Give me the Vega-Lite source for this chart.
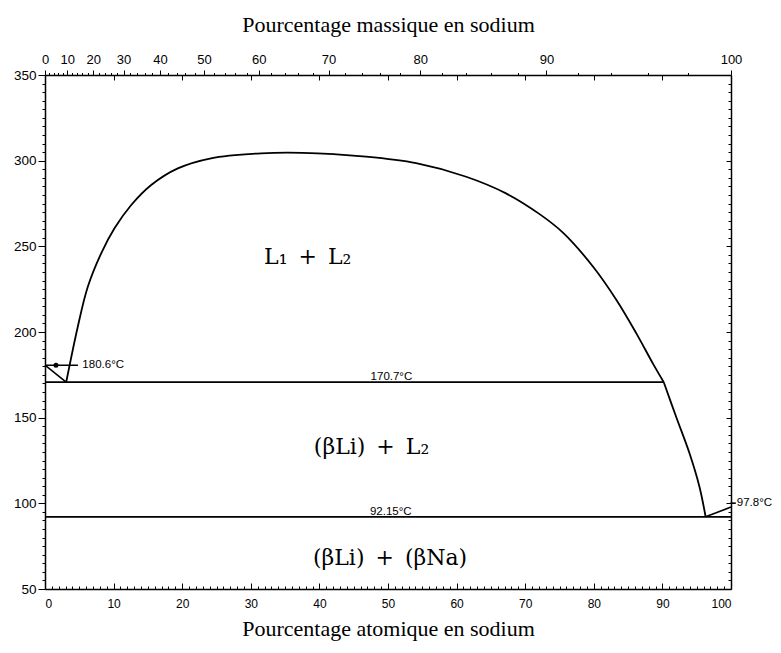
{
  "$schema": "https://vega.github.io/schema/vega-lite/v6.json",
  "width": 686,
  "height": 514,
  "autosize": {"type": "none"},
  "padding": {"left": 45, "top": 75, "right": 50, "bottom": 64},
  "background": "white",
  "config": {
    "view": {"stroke": null},
    "axis": {"domainColor": "black", "domainWidth": 1.5, "tickColor": "black", "tickWidth": 1, "labelColor": "black", "labelFont": "Liberation Sans", "titleColor": "black", "grid": false}
  },
  "datasets": {
    "curve": [
      {"part": "gap", "x": 3.09, "t": 170.7, "i": 0},
      {"part": "gap", "x": 4.78, "t": 203.1, "i": 1},
      {"part": "gap", "x": 6.24, "t": 226.4, "i": 2},
      {"part": "gap", "x": 8.19, "t": 245.9, "i": 3},
      {"part": "gap", "x": 10.13, "t": 260.5, "i": 4},
      {"part": "gap", "x": 12.57, "t": 274.1, "i": 5},
      {"part": "gap", "x": 15.48, "t": 285.8, "i": 6},
      {"part": "gap", "x": 19.36, "t": 295.5, "i": 7},
      {"part": "gap", "x": 24.2, "t": 301.4, "i": 8},
      {"part": "gap", "x": 31.5, "t": 304.3, "i": 9},
      {"part": "gap", "x": 37.5, "t": 304.6, "i": 10},
      {"part": "gap", "x": 46.8, "t": 302.3, "i": 11},
      {"part": "gap", "x": 54.1, "t": 298.5, "i": 12},
      {"part": "gap", "x": 61.4, "t": 290.6, "i": 13},
      {"part": "gap", "x": 67.2, "t": 280.9, "i": 14},
      {"part": "gap", "x": 72.1, "t": 268.8, "i": 15},
      {"part": "gap", "x": 75.5, "t": 258.0, "i": 16},
      {"part": "gap", "x": 79.9, "t": 238.1, "i": 17},
      {"part": "gap", "x": 83.3, "t": 218.7, "i": 18},
      {"part": "gap", "x": 86.2, "t": 199.2, "i": 19},
      {"part": "gap", "x": 88.6, "t": 181.7, "i": 20},
      {"part": "gap", "x": 90.2, "t": 170.7, "i": 21},
      {"part": "liq", "x": 90.2, "t": 170.7, "i": 0},
      {"part": "liq", "x": 92.0, "t": 150.5, "i": 1},
      {"part": "liq", "x": 93.95, "t": 129.2, "i": 2},
      {"part": "liq", "x": 95.4, "t": 109.7, "i": 3},
      {"part": "liq", "x": 96.3, "t": 92.15, "i": 4}
    ],
    "segs": [
      {"seg": "liLiq", "x": 0, "t": 180.6, "i": 0},
      {"seg": "liLiq", "x": 3.09, "t": 170.7, "i": 1},
      {"seg": "naLiq", "x": 96.3, "t": 92.15, "i": 0},
      {"seg": "naLiq", "x": 100, "t": 97.8, "i": 1},
      {"seg": "lead1", "x": 0, "t": 180.6, "i": 0},
      {"seg": "lead1", "x": 4.8, "t": 180.6, "i": 1},
      {"seg": "lead2", "x": 99.9, "t": 100.1, "i": 0},
      {"seg": "lead2", "x": 100.7, "t": 100.1, "i": 1}
    ],
    "hlines": [
      {"x1": 0, "x2": 90.2, "t": 170.7},
      {"x1": 0, "x2": 100, "t": 92.15}
    ],
    "regions": [
      {"x": 38.3, "t": 243.8, "label": "L₁\u2002+\u2002L₂"},
      {"x": 47.6, "t": 132.8, "label": "(βLi)\u2002+\u2002L₂"},
      {"x": 50.3, "t": 68.0, "label": "(βLi)\u2002+\u2002(βNa)"}
    ],
    "tlabels": [
      {"x": 50.5, "t": 170.7, "label": "170.7°C"},
      {"x": 50.4, "t": 92.15, "label": "92.15°C"}
    ],
    "sidelabels": [
      {"x": 5.3, "t": 180.6, "label": "180.6°C"},
      {"x": 100.7, "t": 100.1, "label": "97.8°C"}
    ],
    "dots": [
      {"x": 1.6, "t": 180.6}
    ]
  },
  "layer": [
    {
      "data": {"name": "curve"},
      "mark": {"type": "line", "color": "black", "strokeWidth": 1.8, "interpolate": "catmull-rom"},
      "encoding": {
        "x": {"field": "x", "type": "quantitative", "scale": {"domain": [0, 100], "nice": false, "zero": false},
          "axis": {"orient": "bottom", "values": [0, 10, 20, 30, 40, 50, 60, 70, 80, 90, 100], "tickSize": -6, "labelPadding": 15, "labelFontSize": 12, "title": "Pourcentage atomique en sodium", "titleFont": "Liberation Serif", "titleFontSize": 22, "titleFontWeight": "normal", "titlePadding": 9}},
        "y": {"field": "t", "type": "quantitative", "scale": {"domain": [50, 350], "nice": false, "zero": false},
          "axis": {"orient": "left", "values": [50, 100, 150, 200, 250, 300, 350], "tickSize": 7, "labelPadding": 2, "labelFontSize": 13.5, "title": null}},
        "detail": {"field": "part"},
        "order": {"field": "i"}
      }
    },
    {
      "data": {"name": "curve"},
      "mark": {"type": "point", "opacity": 0},
      "encoding": {
        "x": {"field": "x", "type": "quantitative", "scale": {"domain": [0, 100], "nice": false, "zero": false},
          "axis": {"orient": "bottom", "values": [1,2,3,4,5,6,7,8,9,11,12,13,14,15,16,17,18,19,21,22,23,24,25,26,27,28,29,31,32,33,34,35,36,37,38,39,41,42,43,44,45,46,47,48,49,51,52,53,54,55,56,57,58,59,61,62,63,64,65,66,67,68,69,71,72,73,74,75,76,77,78,79,81,82,83,84,85,86,87,88,89,91,92,93,94,95,96,97,98,99], "tickSize": -3, "labels": false, "domain": false, "title": null}},
        "y": {"field": "t", "type": "quantitative", "scale": {"domain": [50, 350], "nice": false, "zero": false},
          "axis": {"orient": "left", "values": [55,60,65,70,75,80,85,90,95,105,110,115,120,125,130,135,140,145,155,160,165,170,175,180,185,190,195,205,210,215,220,225,230,235,240,245,255,260,265,270,275,280,285,290,295,305,310,315,320,325,330,335,340,345], "tickSize": 3, "labels": false, "domain": false, "title": null}}
      }
    },
    {
      "data": {"name": "curve"},
      "mark": {"type": "point", "opacity": 0},
      "encoding": {
        "x": {"field": "x", "type": "quantitative", "scale": {"domain": [0, 100], "nice": false, "zero": false},
          "axis": {"orient": "top", "values": [0, 3.246, 7.018, 11.457, 16.756, 23.19, 31.171, 41.331, 54.704, 73.098, 100], "tickSize": 5, "labelPadding": 4, "labelFontSize": 13,
            "labelExpr": "datum.value < 1 ? '0' : datum.value < 5 ? '10' : datum.value < 9 ? '20' : datum.value < 14 ? '30' : datum.value < 20 ? '40' : datum.value < 27 ? '50' : datum.value < 36 ? '60' : datum.value < 48 ? '70' : datum.value < 64 ? '80' : datum.value < 90 ? '90' : '100'",
            "labelFlush": false, "labelOverlap": false,
            "title": "Pourcentage massique en sodium", "titleFont": "Liberation Serif", "titleFontSize": 22, "titleFontWeight": "normal", "titlePadding": 17}},
        "y": {"field": "t", "type": "quantitative", "scale": {"domain": [50, 350], "nice": false, "zero": false},
          "axis": {"orient": "right", "values": [100, 150, 200, 250, 300], "tickSize": -5, "labels": false, "title": null}}
      }
    },
    {
      "data": {"name": "curve"},
      "mark": {"type": "point", "opacity": 0},
      "encoding": {
        "x": {"field": "x", "type": "quantitative", "scale": {"domain": [0, 100], "nice": false, "zero": false},
          "axis": {"orient": "top", "values": [0.612,1.242,1.891,2.558,3.954,4.685,5.438,6.216,7.847,8.704,9.591,10.508,12.44,13.46,14.517,15.615,17.941,19.173,20.457,21.795,24.647,26.168,27.76,29.425,33.003,34.928,36.952,39.084,43.705,46.217,48.878,51.701,57.902,61.316,64.97,68.887,77.639,82.548,87.873,93.669], "tickSize": 2.5, "labels": false, "domain": false, "title": null}},
        "y": {"field": "t", "type": "quantitative", "scale": {"domain": [50, 350], "nice": false, "zero": false},
          "axis": {"orient": "right", "values": [55,60,65,70,75,80,85,90,95,105,110,115,120,125,130,135,140,145,155,160,165,170,175,180,185,190,195,205,210,215,220,225,230,235,240,245,255,260,265,270,275,280,285,290,295,305,310,315,320,325,330,335,340,345], "tickSize": -3, "labels": false, "domain": false, "title": null}}
      }
    },
    {
      "data": {"name": "curve"},
      "mark": {"type": "point", "opacity": 0},
      "encoding": {
        "x": {"field": "x", "type": "quantitative", "scale": {"domain": [0, 100], "nice": false, "zero": false},
          "axis": {"orient": "top", "values": [10, 20, 30, 40, 50, 60, 70, 80, 90], "tickSize": -5, "labels": false, "domain": false, "title": null}},
        "y": {"field": "t", "type": "quantitative", "scale": {"domain": [50, 350], "nice": false, "zero": false}, "axis": null}
      }
    },
    {
      "data": {"name": "hlines"},
      "mark": {"type": "rule", "color": "black", "strokeWidth": 1.8},
      "encoding": {
        "x": {"field": "x1", "type": "quantitative", "scale": {"domain": [0, 100], "nice": false, "zero": false}, "axis": null},
        "x2": {"field": "x2"},
        "y": {"field": "t", "type": "quantitative", "scale": {"domain": [50, 350], "nice": false, "zero": false}, "axis": null}
      }
    },
    {
      "data": {"name": "segs"},
      "mark": {"type": "line", "color": "black", "strokeWidth": 1.6},
      "encoding": {
        "x": {"field": "x", "type": "quantitative", "scale": {"domain": [0, 100], "nice": false, "zero": false}, "axis": null},
        "y": {"field": "t", "type": "quantitative", "scale": {"domain": [50, 350], "nice": false, "zero": false}, "axis": null},
        "detail": {"field": "seg"},
        "order": {"field": "i"}
      }
    },
    {
      "data": {"name": "dots"},
      "mark": {"type": "point", "filled": true, "color": "black", "size": 25, "opacity": 1},
      "encoding": {
        "x": {"field": "x", "type": "quantitative", "scale": {"domain": [0, 100], "nice": false, "zero": false}, "axis": null},
        "y": {"field": "t", "type": "quantitative", "scale": {"domain": [50, 350], "nice": false, "zero": false}, "axis": null}
      }
    },
    {
      "data": {"name": "regions"},
      "mark": {"type": "text", "font": "DejaVu Serif", "fontSize": 22, "color": "black", "align": "center", "baseline": "middle"},
      "encoding": {
        "x": {"field": "x", "type": "quantitative", "scale": {"domain": [0, 100], "nice": false, "zero": false}, "axis": null},
        "y": {"field": "t", "type": "quantitative", "scale": {"domain": [50, 350], "nice": false, "zero": false}, "axis": null},
        "text": {"field": "label"}
      }
    },
    {
      "data": {"name": "tlabels"},
      "mark": {"type": "text", "font": "Liberation Sans", "fontSize": 11.5, "color": "black", "align": "center", "baseline": "alphabetic", "dy": -2},
      "encoding": {
        "x": {"field": "x", "type": "quantitative", "scale": {"domain": [0, 100], "nice": false, "zero": false}, "axis": null},
        "y": {"field": "t", "type": "quantitative", "scale": {"domain": [50, 350], "nice": false, "zero": false}, "axis": null},
        "text": {"field": "label"}
      }
    },
    {
      "data": {"name": "sidelabels"},
      "mark": {"type": "text", "font": "Liberation Sans", "fontSize": 11.5, "color": "black", "align": "left", "baseline": "middle", "dx": 1},
      "encoding": {
        "x": {"field": "x", "type": "quantitative", "scale": {"domain": [0, 100], "nice": false, "zero": false}, "axis": null},
        "y": {"field": "t", "type": "quantitative", "scale": {"domain": [50, 350], "nice": false, "zero": false}, "axis": null},
        "text": {"field": "label"}
      }
    }
  ],
  "resolve": {"axis": {"x": "independent", "y": "independent"}}
}
